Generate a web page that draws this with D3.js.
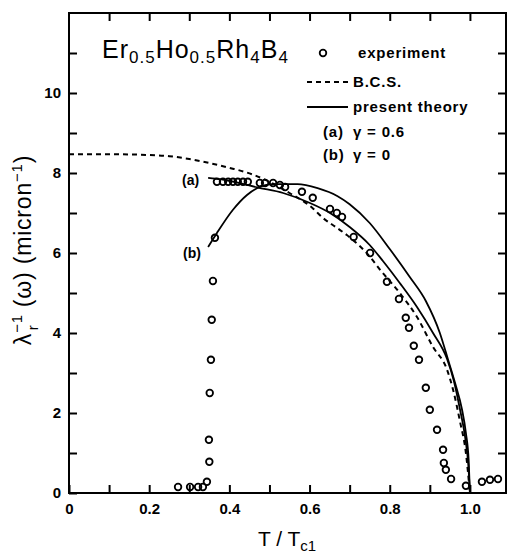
<!DOCTYPE html>
<html>
<head>
<meta charset="utf-8">
<script src="https://cdn.jsdelivr.net/npm/d3@7"></script>
<style>
  body { margin: 0; background: #fff; }
  svg text { font-family: "Liberation Sans", Arial, sans-serif; fill: #000; }
</style>
</head>
<body>
<div id="chart"></div>
<script>
// BCS curve (dashed)
const bcsT = [0, 0.1, 0.2, 0.25, 0.3, 0.35, 0.4, 0.456, 0.5, 0.55, 0.608, 0.633, 0.668, 0.693, 0.751, 0.776, 0.825, 0.868, 0.908, 0.943, 0.958, 0.975, 0.99, 1.0];
const bcsV = [8.47, 8.47, 8.45, 8.42, 8.35, 8.25, 8.13, 7.97, 7.78, 7.5, 7.12, 6.88, 6.63, 6.45, 5.9, 5.58, 5.0, 4.4, 3.65, 3.08, 2.58, 1.8, 1.0, 0];

// present theory (a) gamma = 0.6
const curveAT = [0.347, 0.38, 0.42, 0.469, 0.534, 0.601, 0.651, 0.70, 0.75, 0.783, 0.825, 0.868, 0.908, 0.943, 0.96, 0.975, 0.988, 0.996, 1.0];
const curveAV = [7.88, 7.84, 7.76, 7.64, 7.5, 7.25, 7.0, 6.65, 6.2, 5.8, 5.25, 4.65, 4.0, 3.35, 2.8, 2.1, 1.4, 0.7, 0];

// present theory (b) gamma = 0
const curveBT = [0.347, 0.369, 0.409, 0.444, 0.469, 0.51, 0.57, 0.62, 0.67, 0.70, 0.75, 0.80, 0.85, 0.89, 0.925, 0.945, 0.963, 0.98, 0.99, 0.997, 1.0];
const curveBV = [6.15, 6.5, 7.08, 7.45, 7.62, 7.72, 7.72, 7.62, 7.42, 7.22, 6.75, 6.1, 5.4, 4.8, 4.0, 3.35, 2.75, 2.1, 1.5, 0.8, 0];

// experiment points
const expT = [0.272, 0.302, 0.322, 0.334, 0.344, 0.35, 0.349, 0.351, 0.354, 0.356, 0.359, 0.364,
  0.369, 0.384, 0.397, 0.409, 0.421, 0.434, 0.446, 0.476, 0.489, 0.509, 0.526, 0.539, 0.581, 0.608,
  0.651, 0.668, 0.681, 0.71, 0.751, 0.793, 0.823, 0.840, 0.848, 0.860, 0.873, 0.890, 0.900, 0.918,
  0.933, 0.935, 0.940, 0.953, 0.99, 1.03, 1.05, 1.07];
const expV = [0.15, 0.15, 0.15, 0.15, 0.28, 0.78, 1.33, 2.5, 3.33, 4.33, 5.3, 6.38,
  7.78, 7.78, 7.78, 7.78, 7.78, 7.78, 7.78, 7.75, 7.75, 7.75, 7.7, 7.65, 7.53, 7.38,
  7.1, 7.0, 6.9, 6.4, 6.0, 5.28, 4.85, 4.38, 4.13, 3.68, 3.33, 2.63, 2.08, 1.58,
  1.08, 0.75, 0.58, 0.35, 0.18, 0.28, 0.33, 0.35];

const xTicks = d3.range(0, 11).map(i => i / 10);
const xLabels = {0: "0", 2: "0.2", 4: "0.4", 6: "0.6", 8: "0.8", 10: "1.0"};
const yTicks = d3.range(0, 12);
const yLabels = {0: "0", 2: "2", 4: "4", 6: "6", 8: "8", 10: "10"};

const width = 507, height = 553;
const svg = d3.select("#chart").append("svg")
    .attr("width", width)
    .attr("height", height);

const x = d3.scaleLinear().domain([0, 1.09]).range([69, 506]);
const y = d3.scaleLinear().domain([0, 12]).range([493, 13]);

// frame
svg.append("rect")
    .attr("x", x(0)).attr("y", y(12))
    .attr("width", x(1.09) - x(0)).attr("height", y(0) - y(12))
    .attr("fill", "none").attr("stroke", "#000").attr("stroke-width", 2);

// axes with inward ticks
const styleAxis = g => {
    g.select(".domain").remove();
    g.selectAll(".tick line").attr("stroke", "#000").attr("stroke-width", 2);
    g.selectAll(".tick text").attr("font-size", 15).attr("font-weight", "bold")
        .attr("font-family", "Liberation Sans, Arial, sans-serif");
};

svg.append("g")
    .attr("transform", `translate(0,${y(0)})`)
    .call(d3.axisBottom(x).tickValues(xTicks).tickSize(-8).tickPadding(10)
        .tickFormat(d => xLabels[Math.round(d * 10)] || ""))
    .call(styleAxis);

svg.append("g")
    .attr("transform", `translate(0,${y(12)})`)
    .call(d3.axisTop(x).tickValues(xTicks.slice(1)).tickSize(-8).tickFormat(""))
    .call(styleAxis);

svg.append("g")
    .attr("transform", `translate(${x(0)},0)`)
    .call(d3.axisLeft(y).tickValues(yTicks).tickSize(-8).tickPadding(8)
        .tickFormat(d => yLabels[d] || ""))
    .call(styleAxis);

svg.append("g")
    .attr("transform", `translate(${x(1.09)},0)`)
    .call(d3.axisRight(y).tickValues(yTicks.slice(1)).tickSize(-8).tickFormat(""))
    .call(styleAxis);

// curves
const line = d3.line().x(d => x(d[0])).y(d => y(d[1])).curve(d3.curveMonotoneX);
const zip = (a, b) => a.map((v, i) => [v, b[i]]);

svg.append("path").datum(zip(bcsT, bcsV))
    .attr("d", line).attr("fill", "none").attr("stroke", "#000")
    .attr("stroke-width", 2).attr("stroke-dasharray", "5,4");

svg.append("path").datum(zip(curveAT, curveAV))
    .attr("d", line).attr("fill", "none").attr("stroke", "#000").attr("stroke-width", 1.8);

svg.append("path").datum(zip(curveBT, curveBV))
    .attr("d", line).attr("fill", "none").attr("stroke", "#000").attr("stroke-width", 1.8);

svg.append("g").selectAll("circle")
    .data(zip(expT, expV))
    .enter().append("circle")
    .attr("cx", d => x(d[0]))
    .attr("cy", d => y(d[1]))
    .attr("r", 3.3)
    .attr("fill", "none").attr("stroke", "#000").attr("stroke-width", 1.8);

// curve labels
svg.append("text").attr("x", 182).attr("y", 185).attr("font-size", 14).attr("font-weight", "bold").text("(a)");
svg.append("text").attr("x", 183).attr("y", 258).attr("font-size", 14).attr("font-weight", "bold").text("(b)");

// title
const title = svg.append("text").attr("x", 102).attr("y", 58).attr("font-size", 25)
    .attr("letter-spacing", 1);
title.append("tspan").text("Er");
title.append("tspan").attr("font-size", 17).attr("dy", 5).text("0.5");
title.append("tspan").attr("dy", -5).text("Ho");
title.append("tspan").attr("font-size", 17).attr("dy", 5).text("0.5");
title.append("tspan").attr("dy", -5).text("Rh");
title.append("tspan").attr("font-size", 17).attr("dy", 5).text("4");
title.append("tspan").attr("dy", -5).text("B");
title.append("tspan").attr("font-size", 17).attr("dy", 5).text("4");

// legend
const leg = svg.append("g").attr("font-size", 15).attr("font-weight", "bold")
    .attr("letter-spacing", 0.8);
leg.append("circle").attr("cx", 323).attr("cy", 53).attr("r", 3.3)
    .attr("fill", "none").attr("stroke", "#000").attr("stroke-width", 1.8);
leg.append("text").attr("x", 358).attr("y", 58).text("experiment");
leg.append("line").attr("x1", 307).attr("x2", 348).attr("y1", 82).attr("y2", 82)
    .attr("stroke", "#000").attr("stroke-width", 2).attr("stroke-dasharray", "5,4");
leg.append("text").attr("x", 353).attr("y", 87).text("B.C.S.");
leg.append("line").attr("x1", 307).attr("x2", 348).attr("y1", 107).attr("y2", 107)
    .attr("stroke", "#000").attr("stroke-width", 1.8);
leg.append("text").attr("x", 353).attr("y", 112).text("present theory");
leg.append("text").attr("x", 323).attr("y", 137).text("(a)");
leg.append("text").attr("x", 353).attr("y", 137).text("γ = 0.6");
leg.append("text").attr("x", 323).attr("y", 160).text("(b)");
leg.append("text").attr("x", 353).attr("y", 160).text("γ = 0");

// x axis title
const xt = svg.append("text").attr("x", 287).attr("y", 546).attr("font-size", 21)
    .attr("text-anchor", "middle");
xt.append("tspan").text("T / T");
xt.append("tspan").attr("font-size", 15).attr("dy", 5).text("c1");

// y axis title
const yt = svg.append("text")
    .attr("transform", "translate(31,250) rotate(-90)")
    .attr("font-size", 23).attr("text-anchor", "middle").attr("letter-spacing", 0.8);
yt.append("tspan").text("λ");
yt.append("tspan").attr("font-size", 15).attr("dy", -9).text("−1");
yt.append("tspan").attr("font-size", 15).attr("dx", -16).attr("dy", 16).text("r");
yt.append("tspan").attr("dx", 10).attr("dy", -7).text(" (ω) (micron");
yt.append("tspan").attr("font-size", 15).attr("dy", -9).text("−1");
yt.append("tspan").attr("dy", 9).text(")");
</script>
</body>
</html>
